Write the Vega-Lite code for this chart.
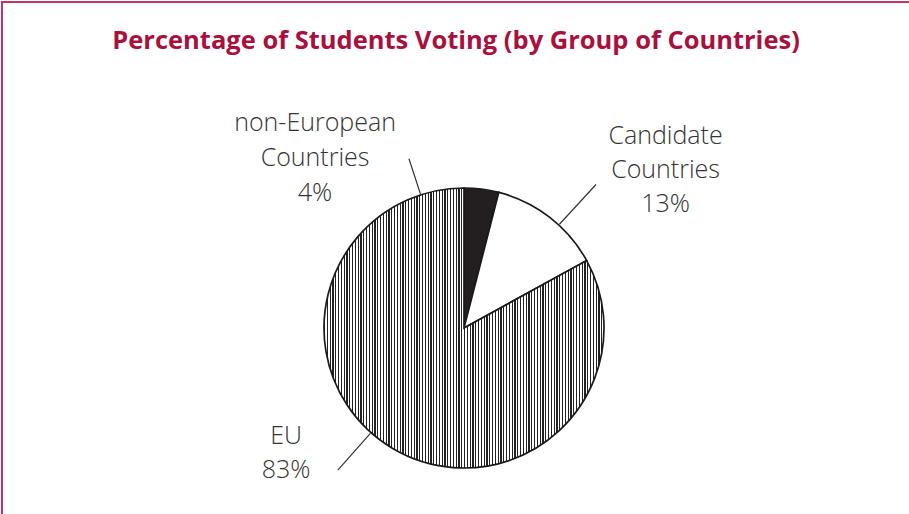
{
  "$schema": "https://vega.github.io/schema/vega-lite/v6.json",
  "width": 924,
  "height": 652,
  "autosize": {"type": "none"},
  "padding": {"left": 2, "top": 2, "right": -17, "bottom": -140},
  "background": "white",
  "view": {"stroke": "#c33466", "strokeWidth": 2, "fill": "white"},
  "title": {
    "text": "Percentage of Students Voting (by Group of Countries)",
    "anchor": "middle",
    "dx": -8,
    "offset": -52,
    "font": "Open Sans",
    "fontSize": 25.5,
    "fontWeight": "bold",
    "color": "#a8103e"
  },
  "data": {
    "values": [
      {"group": "non-European Countries", "percent": 4, "rank": 1, "label": "non-European\nCountries\n4%"},
      {"group": "Candidate Countries", "percent": 13, "rank": 2, "label": "Candidate\nCountries\n13%"},
      {"group": "EU", "percent": 83, "rank": 3, "label": "EU\n83%"}
    ]
  },
  "resolve": {"scale": {"theta": "independent"}},
  "layer": [
    {
      "mark": {"type": "arc", "radius": 140, "stroke": "#1a1a1a", "strokeWidth": 1.7},
      "encoding": {
        "theta": {"field": "percent", "type": "quantitative", "stack": true},
        "order": {"field": "rank", "type": "quantitative"},
        "detail": {"field": "group", "type": "nominal"},
        "fill": {
          "condition": [
            {"test": "datum.group === 'EU'", "value": {"gradient": "linear", "x1": 0, "y1": 0, "x2": 1, "y2": 0, "stops": [
{"offset":0,"color":"#222"},{"offset":0.004,"color":"#222"},{"offset":0.004,"color":"#fff"},{"offset":0.01,"color":"#fff"},
{"offset":0.01,"color":"#222"},{"offset":0.014,"color":"#222"},{"offset":0.014,"color":"#fff"},{"offset":0.02,"color":"#fff"},
{"offset":0.02,"color":"#222"},{"offset":0.024,"color":"#222"},{"offset":0.024,"color":"#fff"},{"offset":0.03,"color":"#fff"},
{"offset":0.03,"color":"#222"},{"offset":0.034,"color":"#222"},{"offset":0.034,"color":"#fff"},{"offset":0.04,"color":"#fff"},
{"offset":0.04,"color":"#222"},{"offset":0.044,"color":"#222"},{"offset":0.044,"color":"#fff"},{"offset":0.05,"color":"#fff"},
{"offset":0.05,"color":"#222"},{"offset":0.054,"color":"#222"},{"offset":0.054,"color":"#fff"},{"offset":0.06,"color":"#fff"},
{"offset":0.06,"color":"#222"},{"offset":0.064,"color":"#222"},{"offset":0.064,"color":"#fff"},{"offset":0.07,"color":"#fff"},
{"offset":0.07,"color":"#222"},{"offset":0.074,"color":"#222"},{"offset":0.074,"color":"#fff"},{"offset":0.08,"color":"#fff"},
{"offset":0.08,"color":"#222"},{"offset":0.084,"color":"#222"},{"offset":0.084,"color":"#fff"},{"offset":0.09,"color":"#fff"},
{"offset":0.09,"color":"#222"},{"offset":0.094,"color":"#222"},{"offset":0.094,"color":"#fff"},{"offset":0.10,"color":"#fff"},
{"offset":0.10,"color":"#222"},{"offset":0.104,"color":"#222"},{"offset":0.104,"color":"#fff"},{"offset":0.11,"color":"#fff"},
{"offset":0.11,"color":"#222"},{"offset":0.114,"color":"#222"},{"offset":0.114,"color":"#fff"},{"offset":0.12,"color":"#fff"},
{"offset":0.12,"color":"#222"},{"offset":0.124,"color":"#222"},{"offset":0.124,"color":"#fff"},{"offset":0.13,"color":"#fff"},
{"offset":0.13,"color":"#222"},{"offset":0.134,"color":"#222"},{"offset":0.134,"color":"#fff"},{"offset":0.14,"color":"#fff"},
{"offset":0.14,"color":"#222"},{"offset":0.144,"color":"#222"},{"offset":0.144,"color":"#fff"},{"offset":0.15,"color":"#fff"},
{"offset":0.15,"color":"#222"},{"offset":0.154,"color":"#222"},{"offset":0.154,"color":"#fff"},{"offset":0.16,"color":"#fff"},
{"offset":0.16,"color":"#222"},{"offset":0.164,"color":"#222"},{"offset":0.164,"color":"#fff"},{"offset":0.17,"color":"#fff"},
{"offset":0.17,"color":"#222"},{"offset":0.174,"color":"#222"},{"offset":0.174,"color":"#fff"},{"offset":0.18,"color":"#fff"},
{"offset":0.18,"color":"#222"},{"offset":0.184,"color":"#222"},{"offset":0.184,"color":"#fff"},{"offset":0.19,"color":"#fff"},
{"offset":0.19,"color":"#222"},{"offset":0.194,"color":"#222"},{"offset":0.194,"color":"#fff"},{"offset":0.20,"color":"#fff"},
{"offset":0.20,"color":"#222"},{"offset":0.204,"color":"#222"},{"offset":0.204,"color":"#fff"},{"offset":0.21,"color":"#fff"},
{"offset":0.21,"color":"#222"},{"offset":0.214,"color":"#222"},{"offset":0.214,"color":"#fff"},{"offset":0.22,"color":"#fff"},
{"offset":0.22,"color":"#222"},{"offset":0.224,"color":"#222"},{"offset":0.224,"color":"#fff"},{"offset":0.23,"color":"#fff"},
{"offset":0.23,"color":"#222"},{"offset":0.234,"color":"#222"},{"offset":0.234,"color":"#fff"},{"offset":0.24,"color":"#fff"},
{"offset":0.24,"color":"#222"},{"offset":0.244,"color":"#222"},{"offset":0.244,"color":"#fff"},{"offset":0.25,"color":"#fff"},
{"offset":0.25,"color":"#222"},{"offset":0.254,"color":"#222"},{"offset":0.254,"color":"#fff"},{"offset":0.26,"color":"#fff"},
{"offset":0.26,"color":"#222"},{"offset":0.264,"color":"#222"},{"offset":0.264,"color":"#fff"},{"offset":0.27,"color":"#fff"},
{"offset":0.27,"color":"#222"},{"offset":0.274,"color":"#222"},{"offset":0.274,"color":"#fff"},{"offset":0.28,"color":"#fff"},
{"offset":0.28,"color":"#222"},{"offset":0.284,"color":"#222"},{"offset":0.284,"color":"#fff"},{"offset":0.29,"color":"#fff"},
{"offset":0.29,"color":"#222"},{"offset":0.294,"color":"#222"},{"offset":0.294,"color":"#fff"},{"offset":0.30,"color":"#fff"},
{"offset":0.30,"color":"#222"},{"offset":0.304,"color":"#222"},{"offset":0.304,"color":"#fff"},{"offset":0.31,"color":"#fff"},
{"offset":0.31,"color":"#222"},{"offset":0.314,"color":"#222"},{"offset":0.314,"color":"#fff"},{"offset":0.32,"color":"#fff"},
{"offset":0.32,"color":"#222"},{"offset":0.324,"color":"#222"},{"offset":0.324,"color":"#fff"},{"offset":0.33,"color":"#fff"},
{"offset":0.33,"color":"#222"},{"offset":0.334,"color":"#222"},{"offset":0.334,"color":"#fff"},{"offset":0.34,"color":"#fff"},
{"offset":0.34,"color":"#222"},{"offset":0.344,"color":"#222"},{"offset":0.344,"color":"#fff"},{"offset":0.35,"color":"#fff"},
{"offset":0.35,"color":"#222"},{"offset":0.354,"color":"#222"},{"offset":0.354,"color":"#fff"},{"offset":0.36,"color":"#fff"},
{"offset":0.36,"color":"#222"},{"offset":0.364,"color":"#222"},{"offset":0.364,"color":"#fff"},{"offset":0.37,"color":"#fff"},
{"offset":0.37,"color":"#222"},{"offset":0.374,"color":"#222"},{"offset":0.374,"color":"#fff"},{"offset":0.38,"color":"#fff"},
{"offset":0.38,"color":"#222"},{"offset":0.384,"color":"#222"},{"offset":0.384,"color":"#fff"},{"offset":0.39,"color":"#fff"},
{"offset":0.39,"color":"#222"},{"offset":0.394,"color":"#222"},{"offset":0.394,"color":"#fff"},{"offset":0.40,"color":"#fff"},
{"offset":0.40,"color":"#222"},{"offset":0.404,"color":"#222"},{"offset":0.404,"color":"#fff"},{"offset":0.41,"color":"#fff"},
{"offset":0.41,"color":"#222"},{"offset":0.414,"color":"#222"},{"offset":0.414,"color":"#fff"},{"offset":0.42,"color":"#fff"},
{"offset":0.42,"color":"#222"},{"offset":0.424,"color":"#222"},{"offset":0.424,"color":"#fff"},{"offset":0.43,"color":"#fff"},
{"offset":0.43,"color":"#222"},{"offset":0.434,"color":"#222"},{"offset":0.434,"color":"#fff"},{"offset":0.44,"color":"#fff"},
{"offset":0.44,"color":"#222"},{"offset":0.444,"color":"#222"},{"offset":0.444,"color":"#fff"},{"offset":0.45,"color":"#fff"},
{"offset":0.45,"color":"#222"},{"offset":0.454,"color":"#222"},{"offset":0.454,"color":"#fff"},{"offset":0.46,"color":"#fff"},
{"offset":0.46,"color":"#222"},{"offset":0.464,"color":"#222"},{"offset":0.464,"color":"#fff"},{"offset":0.47,"color":"#fff"},
{"offset":0.47,"color":"#222"},{"offset":0.474,"color":"#222"},{"offset":0.474,"color":"#fff"},{"offset":0.48,"color":"#fff"},
{"offset":0.48,"color":"#222"},{"offset":0.484,"color":"#222"},{"offset":0.484,"color":"#fff"},{"offset":0.49,"color":"#fff"},
{"offset":0.49,"color":"#222"},{"offset":0.494,"color":"#222"},{"offset":0.494,"color":"#fff"},{"offset":0.50,"color":"#fff"},
{"offset":0.50,"color":"#222"},{"offset":0.504,"color":"#222"},{"offset":0.504,"color":"#fff"},{"offset":0.51,"color":"#fff"},
{"offset":0.51,"color":"#222"},{"offset":0.514,"color":"#222"},{"offset":0.514,"color":"#fff"},{"offset":0.52,"color":"#fff"},
{"offset":0.52,"color":"#222"},{"offset":0.524,"color":"#222"},{"offset":0.524,"color":"#fff"},{"offset":0.53,"color":"#fff"},
{"offset":0.53,"color":"#222"},{"offset":0.534,"color":"#222"},{"offset":0.534,"color":"#fff"},{"offset":0.54,"color":"#fff"},
{"offset":0.54,"color":"#222"},{"offset":0.544,"color":"#222"},{"offset":0.544,"color":"#fff"},{"offset":0.55,"color":"#fff"},
{"offset":0.55,"color":"#222"},{"offset":0.554,"color":"#222"},{"offset":0.554,"color":"#fff"},{"offset":0.56,"color":"#fff"},
{"offset":0.56,"color":"#222"},{"offset":0.564,"color":"#222"},{"offset":0.564,"color":"#fff"},{"offset":0.57,"color":"#fff"},
{"offset":0.57,"color":"#222"},{"offset":0.574,"color":"#222"},{"offset":0.574,"color":"#fff"},{"offset":0.58,"color":"#fff"},
{"offset":0.58,"color":"#222"},{"offset":0.584,"color":"#222"},{"offset":0.584,"color":"#fff"},{"offset":0.59,"color":"#fff"},
{"offset":0.59,"color":"#222"},{"offset":0.594,"color":"#222"},{"offset":0.594,"color":"#fff"},{"offset":0.60,"color":"#fff"},
{"offset":0.60,"color":"#222"},{"offset":0.604,"color":"#222"},{"offset":0.604,"color":"#fff"},{"offset":0.61,"color":"#fff"},
{"offset":0.61,"color":"#222"},{"offset":0.614,"color":"#222"},{"offset":0.614,"color":"#fff"},{"offset":0.62,"color":"#fff"},
{"offset":0.62,"color":"#222"},{"offset":0.624,"color":"#222"},{"offset":0.624,"color":"#fff"},{"offset":0.63,"color":"#fff"},
{"offset":0.63,"color":"#222"},{"offset":0.634,"color":"#222"},{"offset":0.634,"color":"#fff"},{"offset":0.64,"color":"#fff"},
{"offset":0.64,"color":"#222"},{"offset":0.644,"color":"#222"},{"offset":0.644,"color":"#fff"},{"offset":0.65,"color":"#fff"},
{"offset":0.65,"color":"#222"},{"offset":0.654,"color":"#222"},{"offset":0.654,"color":"#fff"},{"offset":0.66,"color":"#fff"},
{"offset":0.66,"color":"#222"},{"offset":0.664,"color":"#222"},{"offset":0.664,"color":"#fff"},{"offset":0.67,"color":"#fff"},
{"offset":0.67,"color":"#222"},{"offset":0.674,"color":"#222"},{"offset":0.674,"color":"#fff"},{"offset":0.68,"color":"#fff"},
{"offset":0.68,"color":"#222"},{"offset":0.684,"color":"#222"},{"offset":0.684,"color":"#fff"},{"offset":0.69,"color":"#fff"},
{"offset":0.69,"color":"#222"},{"offset":0.694,"color":"#222"},{"offset":0.694,"color":"#fff"},{"offset":0.70,"color":"#fff"},
{"offset":0.70,"color":"#222"},{"offset":0.704,"color":"#222"},{"offset":0.704,"color":"#fff"},{"offset":0.71,"color":"#fff"},
{"offset":0.71,"color":"#222"},{"offset":0.714,"color":"#222"},{"offset":0.714,"color":"#fff"},{"offset":0.72,"color":"#fff"},
{"offset":0.72,"color":"#222"},{"offset":0.724,"color":"#222"},{"offset":0.724,"color":"#fff"},{"offset":0.73,"color":"#fff"},
{"offset":0.73,"color":"#222"},{"offset":0.734,"color":"#222"},{"offset":0.734,"color":"#fff"},{"offset":0.74,"color":"#fff"},
{"offset":0.74,"color":"#222"},{"offset":0.744,"color":"#222"},{"offset":0.744,"color":"#fff"},{"offset":0.75,"color":"#fff"},
{"offset":0.75,"color":"#222"},{"offset":0.754,"color":"#222"},{"offset":0.754,"color":"#fff"},{"offset":0.76,"color":"#fff"},
{"offset":0.76,"color":"#222"},{"offset":0.764,"color":"#222"},{"offset":0.764,"color":"#fff"},{"offset":0.77,"color":"#fff"},
{"offset":0.77,"color":"#222"},{"offset":0.774,"color":"#222"},{"offset":0.774,"color":"#fff"},{"offset":0.78,"color":"#fff"},
{"offset":0.78,"color":"#222"},{"offset":0.784,"color":"#222"},{"offset":0.784,"color":"#fff"},{"offset":0.79,"color":"#fff"},
{"offset":0.79,"color":"#222"},{"offset":0.794,"color":"#222"},{"offset":0.794,"color":"#fff"},{"offset":0.80,"color":"#fff"},
{"offset":0.80,"color":"#222"},{"offset":0.804,"color":"#222"},{"offset":0.804,"color":"#fff"},{"offset":0.81,"color":"#fff"},
{"offset":0.81,"color":"#222"},{"offset":0.814,"color":"#222"},{"offset":0.814,"color":"#fff"},{"offset":0.82,"color":"#fff"},
{"offset":0.82,"color":"#222"},{"offset":0.824,"color":"#222"},{"offset":0.824,"color":"#fff"},{"offset":0.83,"color":"#fff"},
{"offset":0.83,"color":"#222"},{"offset":0.834,"color":"#222"},{"offset":0.834,"color":"#fff"},{"offset":0.84,"color":"#fff"},
{"offset":0.84,"color":"#222"},{"offset":0.844,"color":"#222"},{"offset":0.844,"color":"#fff"},{"offset":0.85,"color":"#fff"},
{"offset":0.85,"color":"#222"},{"offset":0.854,"color":"#222"},{"offset":0.854,"color":"#fff"},{"offset":0.86,"color":"#fff"},
{"offset":0.86,"color":"#222"},{"offset":0.864,"color":"#222"},{"offset":0.864,"color":"#fff"},{"offset":0.87,"color":"#fff"},
{"offset":0.87,"color":"#222"},{"offset":0.874,"color":"#222"},{"offset":0.874,"color":"#fff"},{"offset":0.88,"color":"#fff"},
{"offset":0.88,"color":"#222"},{"offset":0.884,"color":"#222"},{"offset":0.884,"color":"#fff"},{"offset":0.89,"color":"#fff"},
{"offset":0.89,"color":"#222"},{"offset":0.894,"color":"#222"},{"offset":0.894,"color":"#fff"},{"offset":0.90,"color":"#fff"},
{"offset":0.90,"color":"#222"},{"offset":0.904,"color":"#222"},{"offset":0.904,"color":"#fff"},{"offset":0.91,"color":"#fff"},
{"offset":0.91,"color":"#222"},{"offset":0.914,"color":"#222"},{"offset":0.914,"color":"#fff"},{"offset":0.92,"color":"#fff"},
{"offset":0.92,"color":"#222"},{"offset":0.924,"color":"#222"},{"offset":0.924,"color":"#fff"},{"offset":0.93,"color":"#fff"},
{"offset":0.93,"color":"#222"},{"offset":0.934,"color":"#222"},{"offset":0.934,"color":"#fff"},{"offset":0.94,"color":"#fff"},
{"offset":0.94,"color":"#222"},{"offset":0.944,"color":"#222"},{"offset":0.944,"color":"#fff"},{"offset":0.95,"color":"#fff"},
{"offset":0.95,"color":"#222"},{"offset":0.954,"color":"#222"},{"offset":0.954,"color":"#fff"},{"offset":0.96,"color":"#fff"},
{"offset":0.96,"color":"#222"},{"offset":0.964,"color":"#222"},{"offset":0.964,"color":"#fff"},{"offset":0.97,"color":"#fff"},
{"offset":0.97,"color":"#222"},{"offset":0.974,"color":"#222"},{"offset":0.974,"color":"#fff"},{"offset":0.98,"color":"#fff"},
{"offset":0.98,"color":"#222"},{"offset":0.984,"color":"#222"},{"offset":0.984,"color":"#fff"},{"offset":0.99,"color":"#fff"},
{"offset":0.99,"color":"#222"},{"offset":0.994,"color":"#222"},{"offset":0.994,"color":"#fff"},{"offset":1,"color":"#fff"}
            ]}},
            {"test": "datum.group === 'non-European Countries'", "value": "#231f20"}
          ],
          "value": "#ffffff"
        }
      }
    },
    {
      "mark": {"type": "arc", "radius": 178, "radius2": 141, "padAngle": 3.1, "filled": false, "stroke": "#333333", "strokeWidth": 1.2, "thetaOffset": -0.44},
      "encoding": {
        "theta": {"field": "percent", "type": "quantitative", "stack": true},
        "order": {"field": "rank", "type": "quantitative"},
        "detail": {"field": "group", "type": "nominal"},
        "strokeOpacity": {"condition": {"test": "datum.group === 'non-European Countries'", "value": 1}, "value": 0}
      }
    },
    {
      "mark": {"type": "arc", "radius": 195, "radius2": 141, "padAngle": 3.1, "filled": false, "stroke": "#333333", "strokeWidth": 1.2, "thetaOffset": 0.084},
      "encoding": {
        "theta": {"field": "percent", "type": "quantitative", "stack": true},
        "order": {"field": "rank", "type": "quantitative"},
        "detail": {"field": "group", "type": "nominal"},
        "strokeOpacity": {"condition": {"test": "datum.group === 'Candidate Countries'", "value": 1}, "value": 0}
      }
    },
    {
      "mark": {"type": "arc", "radius": 190, "radius2": 141, "padAngle": 3.1, "filled": false, "stroke": "#333333", "strokeWidth": 1.2, "thetaOffset": 2.03},
      "encoding": {
        "theta": {"field": "percent", "type": "quantitative", "stack": true, "scale": {"range": [0, 3.14159]}},
        "order": {"field": "rank", "type": "quantitative"},
        "detail": {"field": "group", "type": "nominal"},
        "strokeOpacity": {"condition": {"test": "datum.group === 'EU'", "value": 1}, "value": 0}
      }
    },
    {
      "mark": {"type": "text", "radius": 200, "dx": -174, "dy": -7, "font": "Open Sans", "fontSize": 25, "fontWeight": 300, "lineBreak": "\n", "lineHeight": 35, "align": "center", "baseline": "middle", "color": "#333333"},
      "encoding": {
        "theta": {"field": "percent", "type": "quantitative", "stack": true},
        "order": {"field": "rank", "type": "quantitative"},
        "detail": {"field": "group", "type": "nominal"},
        "text": {"condition": {"test": "datum.group === 'non-European Countries'", "field": "label"}, "value": ""}
      }
    },
    {
      "mark": {"type": "text", "radius": 200, "dx": 79, "dy": -34, "font": "Open Sans", "fontSize": 25, "fontWeight": 300, "lineBreak": "\n", "lineHeight": 34, "align": "center", "baseline": "middle", "color": "#333333"},
      "encoding": {
        "theta": {"field": "percent", "type": "quantitative", "stack": true},
        "order": {"field": "rank", "type": "quantitative"},
        "detail": {"field": "group", "type": "nominal"},
        "text": {"condition": {"test": "datum.group === 'Candidate Countries'", "field": "label"}, "value": ""}
      }
    },
    {
      "mark": {"type": "text", "radius": 200, "dx": -76, "dy": -64, "font": "Open Sans", "fontSize": 25, "fontWeight": 300, "lineBreak": "\n", "lineHeight": 34, "align": "center", "baseline": "middle", "color": "#333333"},
      "encoding": {
        "theta": {"field": "percent", "type": "quantitative", "stack": true},
        "order": {"field": "rank", "type": "quantitative"},
        "detail": {"field": "group", "type": "nominal"},
        "text": {"condition": {"test": "datum.group === 'EU'", "field": "label"}, "value": ""}
      }
    }
  ],
  "config": {
    "view": {"stroke": "#c33466", "strokeWidth": 2}
  }
}
